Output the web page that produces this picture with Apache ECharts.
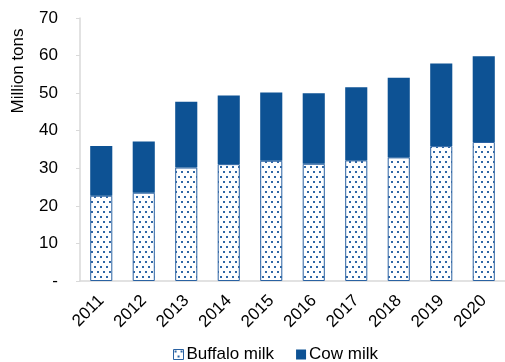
<!DOCTYPE html>
<html>
<head>
<meta charset="utf-8">
<script src="https://cdn.jsdelivr.net/npm/echarts@6/dist/echarts.min.js"></script>
<style>
  html, body { margin: 0; padding: 0; background: #fff; }
  #chart { width: 505px; height: 362px; }
</style>
</head>
<body>
<div id="chart"></div>
<script>
// Milk production by type, million tons
const years = ['2011', '2012', '2013', '2014', '2015', '2016', '2017', '2018', '2019', '2020'];
const buffaloMilk = [22.7, 23.5, 30.2, 31.1, 32.0, 31.2, 32.1, 32.9, 35.9, 37.0];
const cowMilk = [13.2, 13.6, 17.5, 18.3, 18.2, 18.8, 19.5, 21.2, 22.0, 22.8];
const yTicks = [0, 10, 20, 30, 40, 50, 60, 70];

const BLUE = '#0d5294';
const FONT = 'Liberation Sans, Arial, sans-serif';

// Dotted fill for the buffalo bars: white tile with staggered blue dots
function dotPattern() {
  const c = document.createElement('canvas');
  c.width = 6; c.height = 10;
  const g = c.getContext('2d');
  g.fillStyle = '#ffffff';
  g.fillRect(0, 0, 6, 10);
  g.fillStyle = '#2f67a6';
  g.fillRect(1, 1, 2, 2);
  g.fillRect(4, 6, 2, 2);
  return c;
}
const dots = { image: dotPattern(), repeat: 'repeat' };

const chart = echarts.init(document.getElementById('chart'), null, { renderer: 'canvas' });
chart.setOption({
  animation: false,
  backgroundColor: '#fff',
  textStyle: { fontFamily: FONT, color: '#000' },
  grid: { left: 80, right: -4, top: 18, bottom: 81, containLabel: false },
  legend: {
    top: 346,
    left: 173,
    padding: 0,
    itemWidth: 10,
    itemHeight: 10,
    itemGap: 22,
    icon: 'rect',
    textStyle: { fontFamily: FONT, fontSize: 17, color: '#000', padding: [0, 0, 0, -2] },
    data: [
      { name: 'Buffalo milk', itemStyle: { color: dots, borderColor: '#2a62a2', borderWidth: 1 } },
      { name: 'Cow milk', itemStyle: { color: BLUE } }
    ]
  },
  graphic: [{
    type: 'text',
    x: 18, y: 71,
    rotation: Math.PI / 2,
    style: {
      text: 'Million tons',
      fill: '#000',
      font: '17px ' + FONT,
      align: 'center',
      verticalAlign: 'middle'
    }
  }],
  xAxis: {
    type: 'category',
    data: years,
    axisLine: { lineStyle: { color: '#d9d9d9', width: 1.5 } },
    axisTick: { show: false },
    axisLabel: { rotate: 45, fontSize: 17, color: '#000', margin: 17, fontFamily: FONT }
  },
  yAxis: {
    type: 'value',
    min: yTicks[0],
    max: yTicks[yTicks.length - 1],
    interval: 10,
    splitLine: { show: false },
    axisLine: { show: true, lineStyle: { color: '#d9d9d9', width: 1.5 } },
    axisTick: { show: true, length: 4, lineStyle: { color: '#d9d9d9' } },
    axisLabel: {
      fontSize: 17, color: '#000', margin: 22, fontFamily: FONT,
      formatter: v => (v === 0 ? '-' : String(v))
    }
  },
  series: [
    {
      name: 'Buffalo milk',
      type: 'bar',
      stack: 'milk',
      barWidth: '52%',
      data: buffaloMilk,
      itemStyle: { color: dots, borderColor: '#2a62a2', borderWidth: 1 }
    },
    {
      name: 'Cow milk',
      type: 'bar',
      stack: 'milk',
      data: cowMilk,
      itemStyle: { color: BLUE }
    }
  ]
});
</script>
</body>
</html>
